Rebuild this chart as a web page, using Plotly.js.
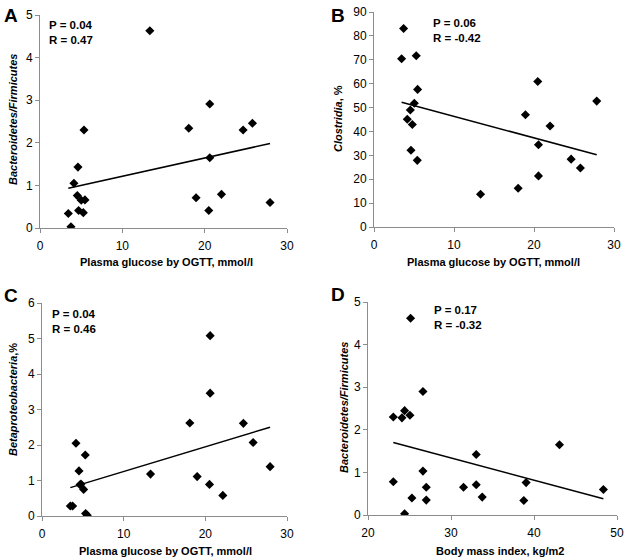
<!DOCTYPE html>
<html>
<head>
<meta charset="utf-8">
<script src="https://cdn.plot.ly/plotly-3.0.1.min.js"></script>
<style>
  html, body { margin: 0; padding: 0; background: #fff; }
  #chart { width: 626px; height: 560px; }
</style>
</head>
<body>
<div id="chart"></div>
<script>
// Panel A: Bacteroidetes/Firmicutes vs plasma glucose
const glucoseA = [3.44, 3.76, 4.12, 4.53, 4.61, 4.69, 5.01, 5.26, 5.34, 5.46,
                  13.34, 18.07, 18.96, 20.50, 20.62, 20.62, 22.04, 24.67, 25.80, 27.94];
const bfA = [0.34, 0.03, 1.05, 0.76, 1.43, 0.41, 0.65, 0.36, 2.30, 0.66,
             4.63, 2.34, 0.71, 0.41, 2.91, 1.65, 0.79, 2.30, 2.46, 0.60];

// Panel B: Clostridia vs plasma glucose
const glucoseB = [3.45, 3.70, 4.16, 4.54, 4.62, 4.79, 5.04, 5.28, 5.41, 5.45,
                  13.32, 18.02, 18.93, 20.47, 20.56, 20.56, 22.01, 24.64, 25.80, 27.84];
const clostridiaB = [70.4, 83.1, 45.1, 49.0, 32.1, 42.9, 51.8, 71.7, 27.9, 57.6,
                     13.7, 16.2, 47.0, 60.9, 34.4, 21.4, 42.3, 28.4, 24.7, 52.7];

// Panel C: Betaproteobacteria vs plasma glucose
const glucoseC = [3.47, 3.75, 4.16, 4.53, 4.65, 4.77, 5.10, 5.30, 5.34, 5.54,
                  13.29, 18.10, 19.00, 20.51, 20.59, 20.59, 22.14, 24.66, 25.85, 27.93];
const betaC = [0.28, 0.28, 2.05, 1.27, 0.88, 0.90, 0.75, 1.72, 0.07, 0.02,
               1.18, 2.62, 1.11, 0.89, 5.08, 3.46, 0.58, 2.61, 2.07, 1.39];

// Panel D: Bacteroidetes/Firmicutes vs BMI
const bmiD = [23.05, 23.05, 24.09, 24.41, 24.41, 25.05, 25.13, 25.29, 26.62, 26.62,
              27.02, 27.02, 31.51, 33.04, 33.04, 33.76, 38.77, 39.05, 43.07, 48.36];
const bfD = [2.30, 0.78, 2.28, 2.45, 0.03, 2.34, 4.62, 0.40, 2.90, 1.03,
             0.65, 0.35, 0.65, 1.42, 0.71, 0.42, 0.34, 0.76, 1.65, 0.60];

const panelLetters = ['A', 'B', 'C', 'D'];
const statsText = ['P = 0.04<br>R = 0.47', 'P = 0.06<br>R = -0.42',
                   'P = 0.04<br>R = 0.46', 'P = 0.17<br>R = -0.32'];
const xTitles = ['Plasma glucose by OGTT, mmol/l', 'Plasma glucose by OGTT, mmol/l',
                 'Plasma glucose by OGTT, mmol/l', 'Body mass index, kg/m2'];
const yTitles = ['<i>Bacteroidetes/Firmicutes</i>', '<i>Clostridia</i>, %',
                 '<i>Betaproteobacteria</i>,%', '<i>Bacteroidetes/Firmicutes</i>'];

const FONT = 'Liberation Sans, Arial, sans-serif';

// least-squares fit, drawn between the smallest and largest x
function fitLine(xs, ys) {
    const n = xs.length;
    const mx = xs.reduce((a, b) => a + b, 0) / n;
    const my = ys.reduce((a, b) => a + b, 0) / n;
    let sxy = 0, sxx = 0;
    for (let i = 0; i < n; i++) {
        sxy += (xs[i] - mx) * (ys[i] - my);
        sxx += (xs[i] - mx) * (xs[i] - mx);
    }
    const slope = sxy / sxx;
    const x0 = Math.min(...xs), x1 = Math.max(...xs);
    return { x: [x0, x1], y: [my + slope * (x0 - mx), my + slope * (x1 - mx)] };
}

const panels = [
    { x: glucoseA, y: bfA },
    { x: glucoseB, y: clostridiaB },
    { x: glucoseC, y: betaC },
    { x: bmiD, y: bfD }
];

const data = [];
panels.forEach((p, i) => {
    const ax = i === 0 ? '' : String(i + 1);
    const fit = fitLine(p.x, p.y);
    data.push({
        x: fit.x, y: fit.y, xaxis: 'x' + ax, yaxis: 'y' + ax,
        type: 'scatter', mode: 'lines',
        line: { color: '#000', width: 1.5 },
        hoverinfo: 'skip'
    });
    data.push({
        x: p.x, y: p.y, xaxis: 'x' + ax, yaxis: 'y' + ax,
        type: 'scatter', mode: 'markers',
        marker: { symbol: 'diamond', size: 7, color: '#000' }
    });
});

const W = 626, H = 560;
const boxes = [
    { l: 40, r: 287, t: 15, b: 228 },
    { l: 374, r: 614, t: 12, b: 227 },
    { l: 42, r: 287, t: 303, b: 516 },
    { l: 368, r: 617, t: 302, b: 515 }
];
const xRanges = [[0, 30], [0, 30], [0, 30], [20, 50]];
const yRanges = [[0, 5], [0, 90], [0, 6], [0, 5]];
const yTicks = [1, 10, 1, 1];

const layout = {
    width: W, height: H,
    margin: { l: 0, r: 0, t: 0, b: 0 },
    showlegend: false,
    paper_bgcolor: '#fff',
    plot_bgcolor: '#fff',
    font: { family: FONT, size: 12, color: '#000' },
    annotations: []
};

boxes.forEach((bx, i) => {
    const ax = i === 0 ? '' : String(i + 1);
    const common = {
        showgrid: false, zeroline: false, showline: true,
        linecolor: '#8c8c8c', linewidth: 1,
        ticks: 'outside', ticklen: 4, tickcolor: '#8c8c8c',
        tickfont: { family: FONT, size: 12, color: '#000' },
        fixedrange: true
    };
    layout['xaxis' + ax] = Object.assign({}, common, {
        domain: [bx.l / W, bx.r / W],
        range: xRanges[i], dtick: 10, tick0: 0,
        ticklabelstandoff: 3,
        anchor: 'y' + ax
    });
    layout['yaxis' + ax] = Object.assign({}, common, {
        domain: [1 - bx.b / H, 1 - bx.t / H],
        range: yRanges[i], dtick: yTicks[i], tick0: 0,
        anchor: 'x' + ax
    });
});

// panel letters
const letterPos = [[2, 3], [329, 3], [2, 283], [329, 282]];
letterPos.forEach((p, i) => {
    layout.annotations.push({
        text: '<b>' + panelLetters[i] + '</b>',
        xref: 'paper', yref: 'paper', x: p[0] / W, y: 1 - p[1] / H,
        xanchor: 'left', yanchor: 'top', showarrow: false,
        font: { family: FONT, size: 19, color: '#000' }
    });
});

// P / R statistics
const statPos = [[47, 17], [431, 15], [50, 306], [432, 302]];
statPos.forEach((p, i) => {
    layout.annotations.push({
        text: '<b>' + statsText[i] + '</b>',
        xref: 'paper', yref: 'paper', x: p[0] / W, y: 1 - p[1] / H,
        xanchor: 'left', yanchor: 'top', align: 'left', showarrow: false,
        font: { family: FONT, size: 11.5, color: '#000' }
    });
});

// axis titles
const xTitlePos = [[166, 262], [493, 262], [165, 551], [500, 551]];
const yTitlePos = [[13, 120], [338, 119], [13, 400], [344, 408]];
xTitlePos.forEach((p, i) => {
    layout.annotations.push({
        text: '<b>' + xTitles[i] + '</b>',
        xref: 'paper', yref: 'paper', x: p[0] / W, y: 1 - p[1] / H,
        xanchor: 'center', yanchor: 'middle', showarrow: false,
        font: { family: FONT, size: 11, color: '#000' }
    });
});
yTitlePos.forEach((p, i) => {
    layout.annotations.push({
        text: '<b>' + yTitles[i] + '</b>',
        xref: 'paper', yref: 'paper', x: p[0] / W, y: 1 - p[1] / H,
        xanchor: 'center', yanchor: 'middle', textangle: -90, showarrow: false,
        font: { family: FONT, size: 11, color: '#000' }
    });
});

Plotly.newPlot('chart', data, layout, { displayModeBar: false, staticPlot: true });
</script>
</body>
</html>
